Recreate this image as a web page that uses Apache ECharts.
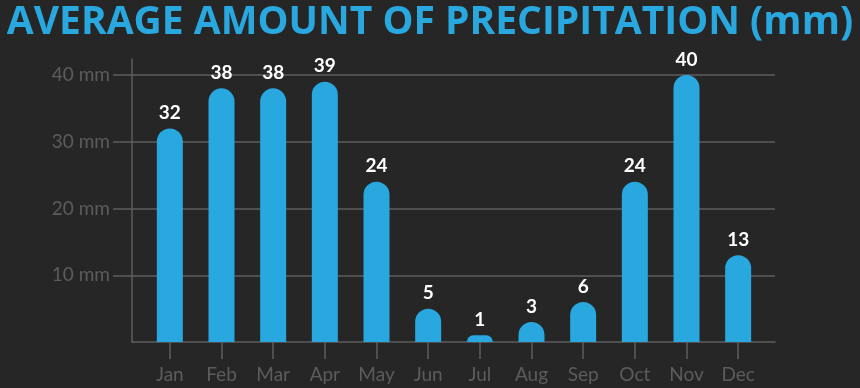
<!DOCTYPE html>
<html><head><meta charset="utf-8">
<script src="https://cdn.jsdelivr.net/npm/echarts@6/dist/echarts.min.js"></script>
<style>html,body{margin:0;padding:0;background:#262626}#c{width:860px;height:388px}</style>
</head><body><div id="c"></div>
<script>
const months = ['Jan','Feb','Mar','Apr','May','Jun','Jul','Aug','Sep','Oct','Nov','Dec'];
const precipitation = [32,38,38,39,24,5,1,3,6,24,40,13];
const yTicks = [10,20,30,40];
const titleText = 'AVERAGE AMOUNT OF PRECIPITATION (mm)';

const gridColor = '#5e5e5e';
const labelColor = '#5c5c5c';
const blue = '#29a8e0';

const chart = echarts.init(document.getElementById('c'), null, {renderer:'canvas'});
chart.setOption({
  backgroundColor: '#262626',
  animation: false,
  title: {
    text: titleText, left: 'center', top: -2,
    textStyle: {color: blue, fontFamily: 'Open Sans', fontWeight: 'bold', fontSize: 39}
  },
  grid: [
    {left: 132, right: 85, top: 75, bottom: 46},
    {left: 132, right: 85, top: 59, bottom: 46},
    {left: 144, right: 96, top: 75, bottom: 46}
  ],
  xAxis: [
    {gridIndex: 0, type: 'value', min: 0, max: 1, axisLine: {show: true, lineStyle: {color: gridColor, width: 1.5}},
     axisTick: {show: false}, axisLabel: {show: false}, splitLine: {show: false}},
    {gridIndex: 1, type: 'value', min: 0, max: 1, show: false},
    {gridIndex: 2, type: 'category', data: months, boundaryGap: true,
     axisLine: {show: false},
     axisTick: {show: true, alignWithLabel: true, length: 17, lineStyle: {color: gridColor, width: 1.5}},
     axisLabel: {color: labelColor, fontFamily: 'Lato', fontSize: 19, margin: 23}}
  ],
  yAxis: [
    {gridIndex: 0, type: 'value', min: 0, max: 40, interval: 10,
     axisLine: {show: false},
     axisTick: {show: true, length: 19, customValues: yTicks, lineStyle: {color: gridColor, width: 1.5}},
     axisLabel: {color: labelColor, fontFamily: 'Lato', fontSize: 19, margin: 22, customValues: yTicks,
                 formatter: v => v + ' mm'},
     splitLine: {show: true, lineStyle: {color: gridColor, width: 1.5}}},
    {gridIndex: 1, type: 'value', min: 0, max: 1,
     axisLine: {show: true, lineStyle: {color: gridColor, width: 1.5}},
     axisTick: {show: false}, axisLabel: {show: false}, splitLine: {show: false}},
    {gridIndex: 2, type: 'value', min: 0, max: 40, show: false}
  ],
  series: [{
    type: 'bar', xAxisIndex: 2, yAxisIndex: 2,
    data: precipitation, barWidth: 26,
    itemStyle: {color: blue, borderRadius: [13, 13, 0, 0]},
    label: {show: true, position: 'top', distance: 6, color: '#ffffff',
            fontFamily: 'Lato', fontWeight: 'bold', fontSize: 19}
  }]
});
</script></body></html>
